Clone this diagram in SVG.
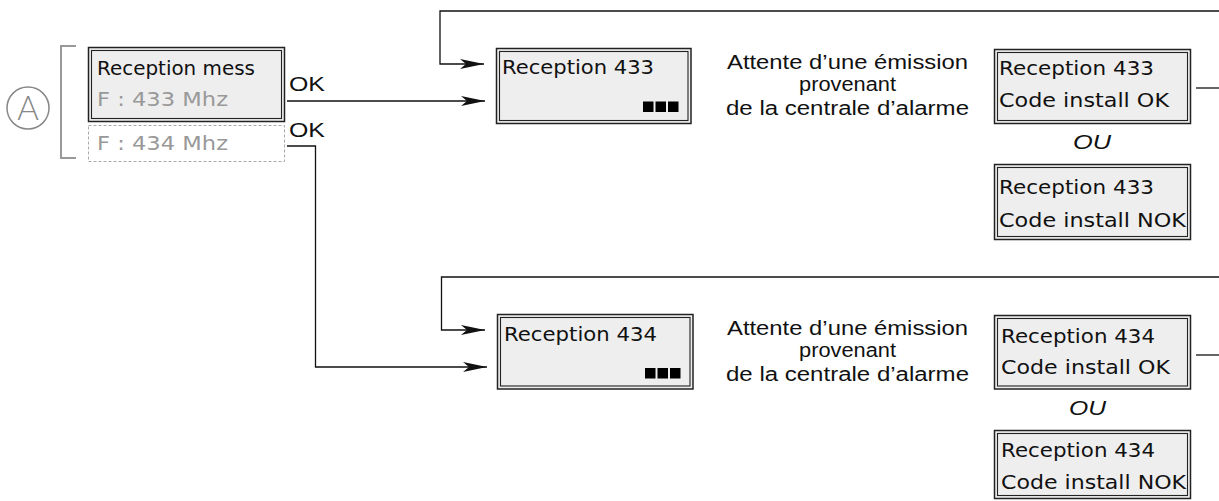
<svg xmlns="http://www.w3.org/2000/svg" width="1219" height="501" viewBox="0 0 1219 501">
<style>
.bg{fill:#ffffff}
.outer{fill:#eeeeee;stroke:#222;stroke-width:1.5}
.inner{fill:none;stroke:#222;stroke-width:1.1}
.lcd{font-family:"DejaVu Sans",sans-serif;font-size:19px;fill:#111}
.gray{fill:#999}
.hel{font-family:"Liberation Sans",Arial,sans-serif;font-size:20px;fill:#111}
.it{font-style:italic}
.conn{fill:none;stroke:#111;stroke-width:1.3}
.sq{fill:#000}
</style>
<defs>
<marker id="arr" viewBox="0 0 24 10" refX="24" refY="5" markerWidth="24" markerHeight="10" markerUnits="userSpaceOnUse" orient="auto">
<path d="M24 5 L0 0 L6 5 L0 10 Z" fill="#111"/>
</marker>
</defs>
<rect class="bg" x="0" y="0" width="1219" height="501"/>

<g id="label-A">
<circle cx="28" cy="108" r="21" fill="none" stroke="#888" stroke-width="1.5"/>
<text x="28" y="120" text-anchor="middle" font-family="Lato,'DejaVu Sans',sans-serif" font-weight="300" font-size="33" fill="#888">A</text>
<path d="M76 46 H61 V158 H76" fill="none" stroke="#999" stroke-width="2"/>
</g>

<g id="node-menu">
<rect class="outer" x="88.5" y="47.5" width="196" height="74"/>
<rect class="inner" x="91.5" y="50.5" width="190" height="68"/>
<text class="lcd" x="97" y="75" textLength="158" lengthAdjust="spacingAndGlyphs">Reception mess</text>
<text class="lcd gray" x="97" y="106" textLength="131" lengthAdjust="spacingAndGlyphs">F : 433 Mhz</text>
</g>
<g id="node-434">
<rect x="88.5" y="125.5" width="196" height="36" fill="none" stroke="#aaa" stroke-width="1" stroke-dasharray="3,2"/>
<text class="lcd gray" x="97" y="150" textLength="131" lengthAdjust="spacingAndGlyphs">F : 434 Mhz</text>
</g>

<g id="connectors">
<path class="conn" d="M287 101 H485" marker-end="url(#arr)"/>
<path class="conn" d="M287 146 H315.5 V367 H487" marker-end="url(#arr)"/>
<path class="conn" d="M1219 11 H440 V64 H484" marker-end="url(#arr)"/>
<path class="conn" d="M1219 277 H441.5 V330 H485" marker-end="url(#arr)"/>
<path class="conn" d="M1196 88 H1219"/>
<path class="conn" d="M1196 355 H1219"/>
<text class="hel" x="289" y="91" textLength="36" lengthAdjust="spacingAndGlyphs">OK</text>
<text class="hel" x="289" y="137" textLength="36" lengthAdjust="spacingAndGlyphs">OK</text>
</g>

<g id="node-rx433">
<rect class="outer" x="496.5" y="48.5" width="194.5" height="75"/>
<rect class="inner" x="499.5" y="51.5" width="188.5" height="69"/>
<text class="lcd" x="502" y="74" textLength="152" lengthAdjust="spacingAndGlyphs">Reception 433</text>
<rect class="sq" x="643" y="101.5" width="10.5" height="10.5"/>
<rect class="sq" x="655.5" y="101.5" width="10.5" height="10.5"/>
<rect class="sq" x="668" y="101.5" width="10.5" height="10.5"/>
</g>

<g id="text-wait-433">
<text class="hel" x="727" y="69" textLength="241" lengthAdjust="spacingAndGlyphs">Attente d’une émission</text>
<text class="hel" x="799" y="91" textLength="97" lengthAdjust="spacingAndGlyphs">provenant</text>
<text class="hel" x="726" y="115" textLength="243" lengthAdjust="spacingAndGlyphs">de la centrale d’alarme</text>
</g>

<g id="node-433-ok">
<rect class="outer" x="994.5" y="49.5" width="196" height="74"/>
<rect class="inner" x="997.5" y="52.5" width="190" height="68"/>
<text class="lcd" x="999" y="75" textLength="155" lengthAdjust="spacingAndGlyphs">Reception 433</text>
<text class="lcd" x="999" y="107" textLength="170" lengthAdjust="spacingAndGlyphs">Code install OK</text>
</g>
<text class="hel it" x="1073" y="149" textLength="38" lengthAdjust="spacingAndGlyphs">OU</text>
<g id="node-433-nok">
<rect class="outer" x="994.5" y="164.5" width="196" height="75"/>
<rect class="inner" x="997.5" y="167.5" width="190" height="69"/>
<text class="lcd" x="999" y="194" textLength="155" lengthAdjust="spacingAndGlyphs">Reception 433</text>
<text class="lcd" x="999" y="227" textLength="187" lengthAdjust="spacingAndGlyphs">Code install NOK</text>
</g>

<g id="node-rx434">
<rect class="outer" x="497.5" y="314.5" width="195.5" height="74.5"/>
<rect class="inner" x="500.5" y="317.5" width="189.5" height="68.5"/>
<text class="lcd" x="504" y="341" textLength="153" lengthAdjust="spacingAndGlyphs">Reception 434</text>
<rect class="sq" x="645" y="368" width="10.5" height="10.5"/>
<rect class="sq" x="657.5" y="368" width="10.5" height="10.5"/>
<rect class="sq" x="670" y="368" width="10.5" height="10.5"/>
</g>

<g id="text-wait-434">
<text class="hel" x="727" y="335" textLength="241" lengthAdjust="spacingAndGlyphs">Attente d’une émission</text>
<text class="hel" x="799" y="357" textLength="97" lengthAdjust="spacingAndGlyphs">provenant</text>
<text class="hel" x="726" y="381" textLength="243" lengthAdjust="spacingAndGlyphs">de la centrale d’alarme</text>
</g>

<g id="node-434-ok">
<rect class="outer" x="994.5" y="315.5" width="196" height="73.5"/>
<rect class="inner" x="997.5" y="318.5" width="190" height="67.5"/>
<text class="lcd" x="1001" y="343" textLength="154" lengthAdjust="spacingAndGlyphs">Reception 434</text>
<text class="lcd" x="1001" y="374" textLength="169" lengthAdjust="spacingAndGlyphs">Code install OK</text>
</g>
<text class="hel it" x="1069" y="415" textLength="37" lengthAdjust="spacingAndGlyphs">OU</text>
<g id="node-434-nok">
<rect class="outer" x="994.5" y="430.5" width="196" height="68"/>
<rect class="inner" x="997.5" y="433.5" width="190" height="62"/>
<text class="lcd" x="1001" y="457" textLength="154" lengthAdjust="spacingAndGlyphs">Reception 434</text>
<text class="lcd" x="1001" y="489" textLength="185" lengthAdjust="spacingAndGlyphs">Code install NOK</text>
</g>
</svg>
